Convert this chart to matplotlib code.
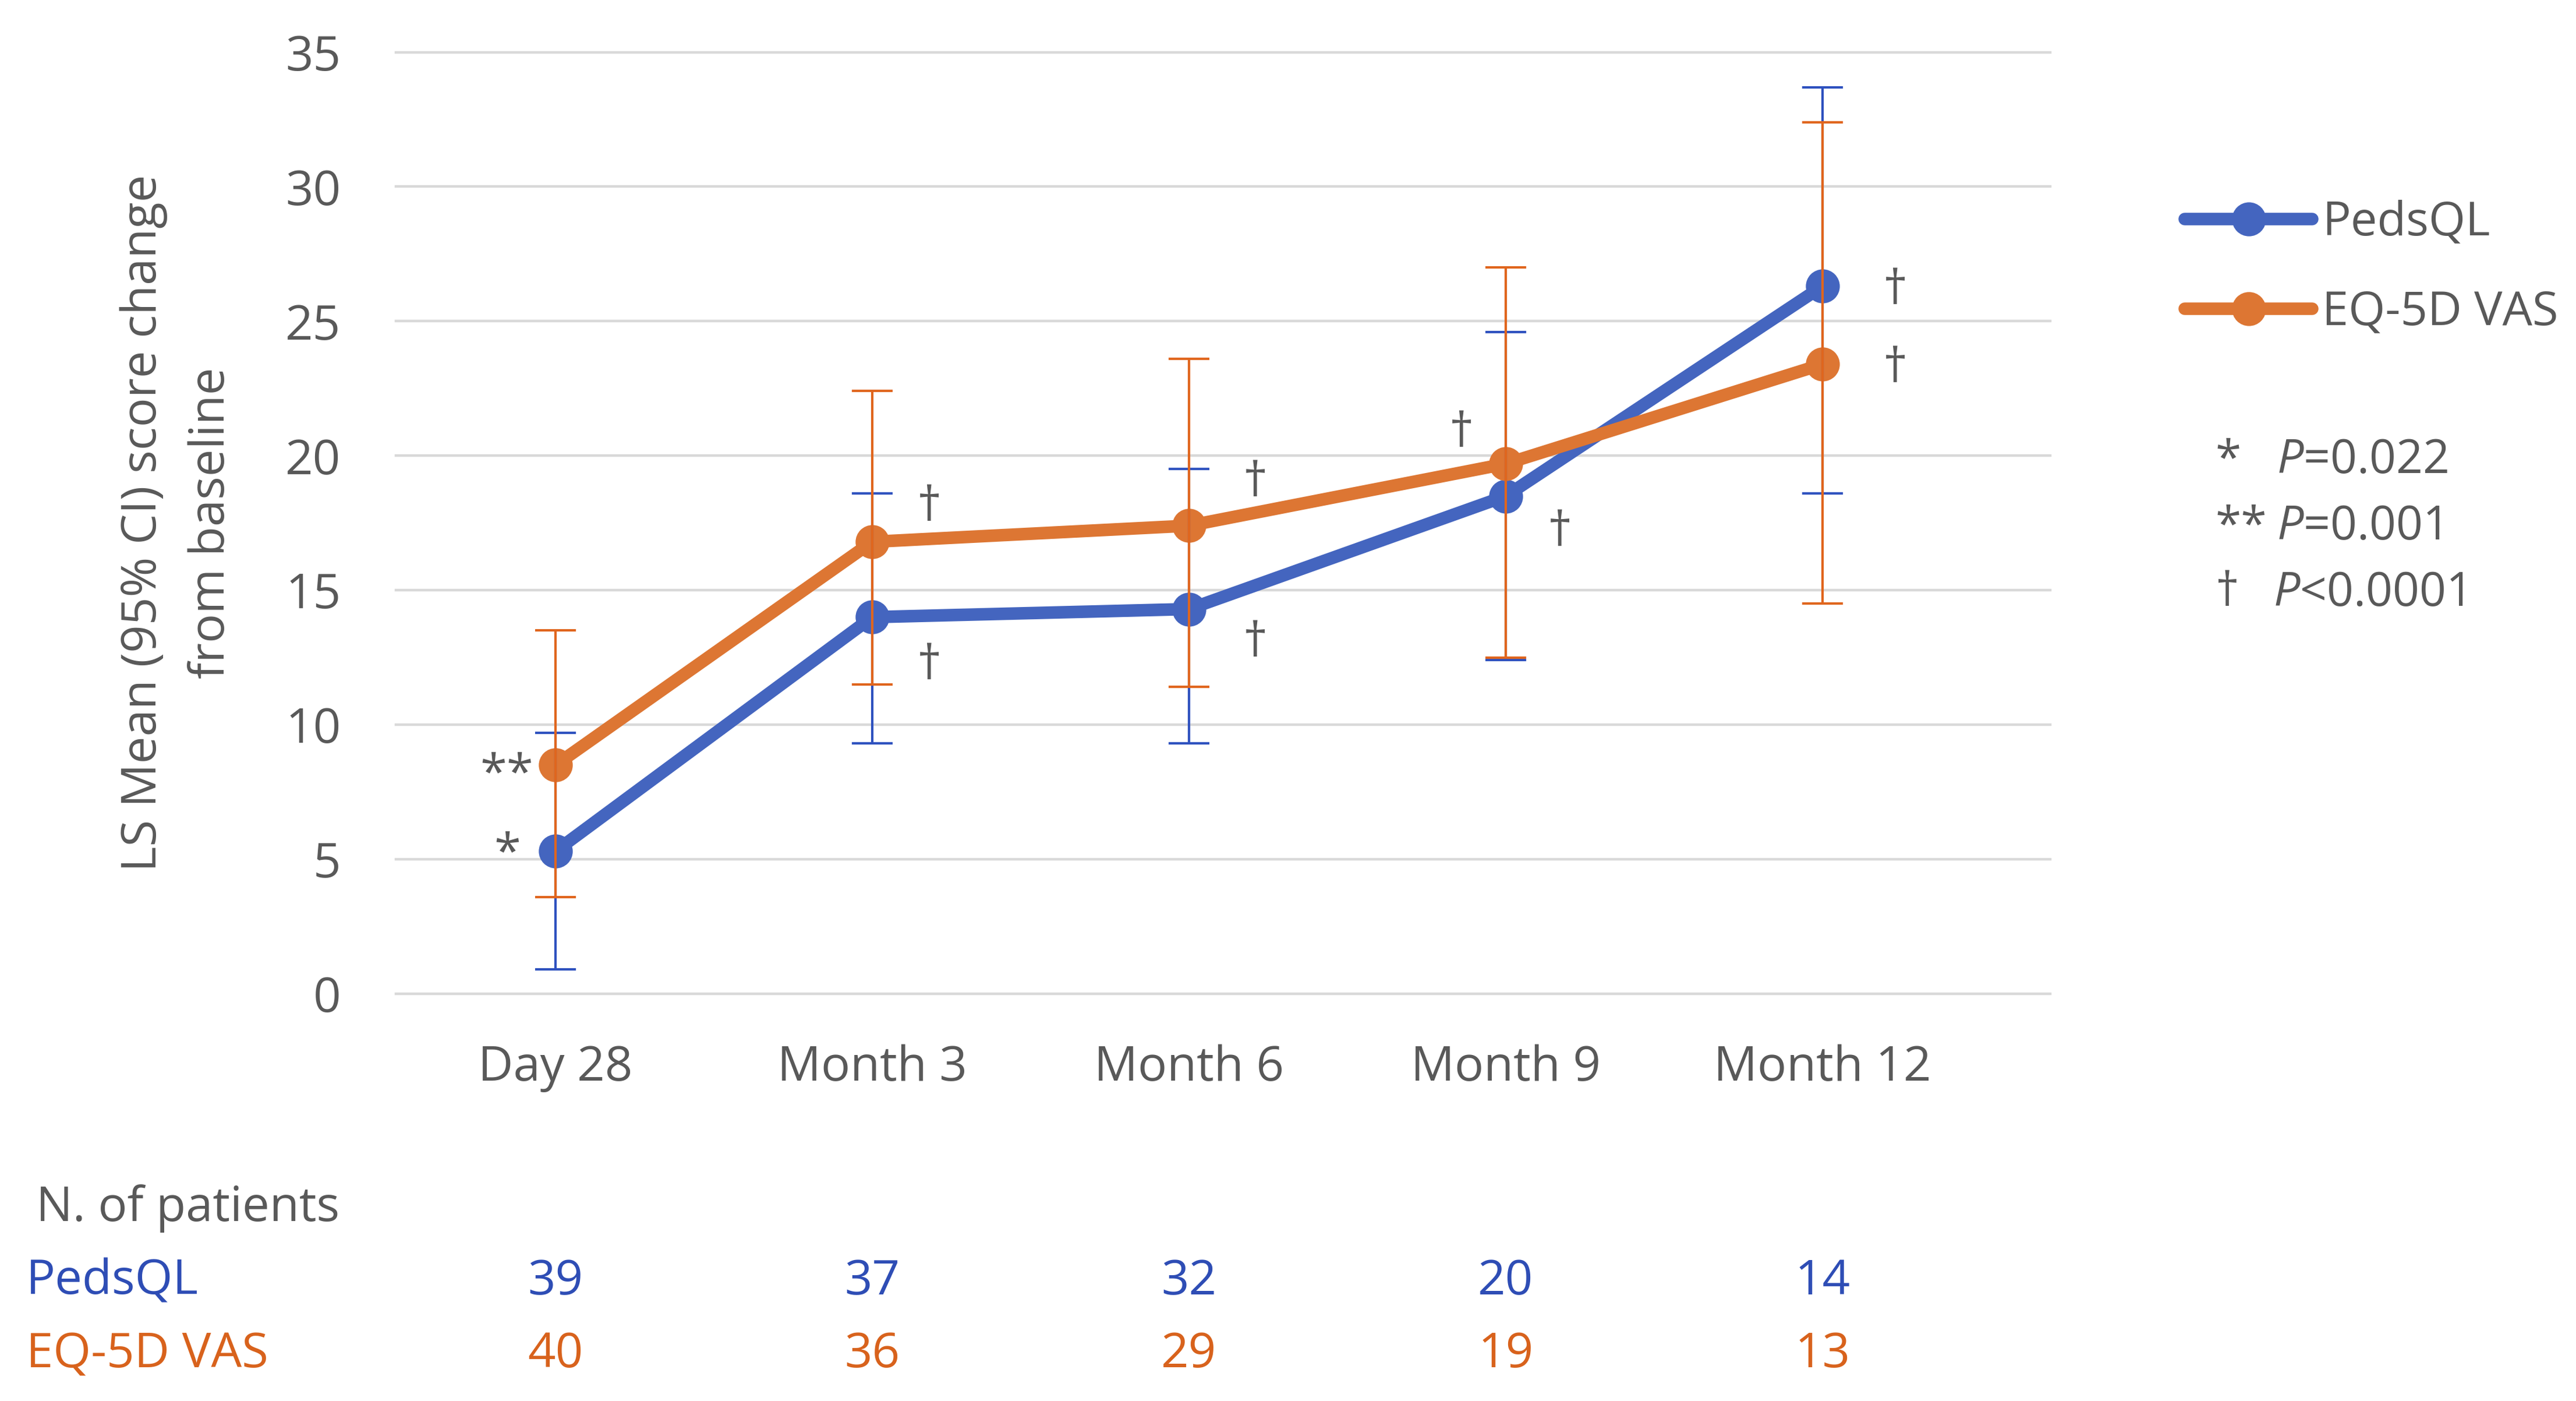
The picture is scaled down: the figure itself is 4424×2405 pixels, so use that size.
import matplotlib
matplotlib.use("Agg")
import matplotlib.pyplot as plt
import matplotlib.transforms as mtransforms
import numpy as np

plt.rcParams['font.family'] = ['Open Sans', 'DejaVu Sans']
plt.rcParams['mathtext.fontset'] = 'custom'
plt.rcParams['mathtext.rm'] = 'Open Sans'
plt.rcParams['mathtext.it'] = 'Open Sans:italic'

# ---------------- data ----------------
categories = ["Day 28", "Month 3", "Month 6", "Month 9", "Month 12"]
peds_mean = [5.3, 14.0, 14.3, 18.5, 26.3]
peds_lo = [0.9, 9.3, 9.3, 12.4, 18.6]
peds_hi = [9.7, 18.6, 19.5, 24.6, 33.7]
eq_mean = [8.5, 16.8, 17.4, 19.7, 23.4]
eq_lo = [3.6, 11.5, 11.4, 12.5, 14.5]
eq_hi = [13.5, 22.4, 23.6, 27.0, 32.4]
n_peds = [39, 37, 32, 20, 14]
n_eq = [40, 36, 29, 19, 13]
series_names = ["PedsQL", "EQ-5D VAS"]
yticks = [0, 5, 10, 15, 20, 25, 30, 35]

annot_peds = ["*", "\u2020", "\u2020", "\u2020", "\u2020"]
annot_eq = ["**", "\u2020", "\u2020", "\u2020", "\u2020"]
pvalue_symbols = ["*", "**", "\u2020"]
pvalue_texts = [r"$\it{P}$=0.022", r"$\it{P}$=0.001", r"$\it{P}$<0.0001"]

# ---------------- style ----------------
W, H = 4424, 2405
BLUE = "#4465BF"
ORANGE = "#DD7633"
BLUE_ERR = "#2F52BF"
ORANGE_ERR = "#E0661E"
BLUE_TXT = "#2E4DB5"
ORANGE_TXT = "#D8621C"
GREY = "#595959"
GRID = "#D9D9D9"
FS = 60

fig = plt.figure(figsize=(W / 100, H / 100), dpi=100)
fig.patch.set_facecolor("white")

def fx(px):
    return px / W

def fy(py):
    return 1 - py / H

ax_left, ax_right, ax_top, ax_bot = 680, 3521, 89.5, 1706
ax = fig.add_axes([fx(ax_left), fy(ax_bot), (ax_right - ax_left) / W, (ax_bot - ax_top) / H])
x0_px, step_px = 954, 544
ax.set_xlim((ax_left - x0_px) / step_px, (ax_right - x0_px) / step_px)
ax.set_ylim(0, 35)
for s in ax.spines.values():
    s.set_visible(False)

for v in yticks:
    ax.axhline(v, color=GRID, lw=3.2, zorder=0, clip_on=False)

x = np.arange(len(categories))
pm, pl, ph = np.array(peds_mean), np.array(peds_lo), np.array(peds_hi)
em, el, eh = np.array(eq_mean), np.array(eq_lo), np.array(eq_hi)

l1, = ax.plot(x, pm, color=BLUE, lw=15.5, marker='o', ms=41, solid_capstyle='round',
              solid_joinstyle='round', zorder=3, label=series_names[0])
l2, = ax.plot(x, em, color=ORANGE, lw=15.5, marker='o', ms=41, solid_capstyle='round',
              solid_joinstyle='round', zorder=4, label=series_names[1])
ax.errorbar(x, pm, yerr=[pm - pl, ph - pm], fmt='none', ecolor=BLUE_ERR, elinewidth=3.0,
            capsize=25, capthick=3.0, zorder=5)
ax.errorbar(x, em, yerr=[em - el, eh - em], fmt='none', ecolor=ORANGE_ERR, elinewidth=3.0,
            capsize=25, capthick=3.0, zorder=6)

ax.set_yticks(yticks)
ax.set_yticklabels([str(v) for v in yticks])
ax.set_xticks(x)
ax.set_xticklabels(categories)
ax.tick_params(axis='y', length=0, pad=68, labelsize=FS, labelcolor=GREY)
ax.tick_params(axis='x', length=0, pad=62, labelsize=FS, labelcolor=GREY)

# significance annotations
afs = 60
ax.text(-0.07, 7.64, annot_eq[0], ha='right', va='baseline', fontsize=afs, color=GREY, zorder=7)
ax.text(-0.11, 4.70, annot_peds[0], ha='right', va='baseline', fontsize=afs, color=GREY, zorder=7)
dag_pos_eq = [(1.18, 18.05), (2.21, 18.95), (2.86, 20.8), (4.23, 23.2)]
dag_pos_peds = [(1.18, 12.15), (2.21, 13.0), (3.17, 17.1), (4.23, 26.1)]
for (xx, yy), t in zip(dag_pos_eq, annot_eq[1:]):
    ax.text(xx, yy, t, ha='center', va='center', fontsize=afs, color=GREY, zorder=7)
for (xx, yy), t in zip(dag_pos_peds, annot_peds[1:]):
    ax.text(xx, yy, t, ha='center', va='center', fontsize=afs, color=GREY, zorder=7)

# y label
fig.text(fx(305), fy(898), "LS Mean (95% CI) score change\nfrom baseline", rotation=90,
         ha='center', va='center', fontsize=FS, color=GREY, linespacing=1.55, multialignment='center')

# legend
leg = fig.legend(handles=[l1, l2], loc='center left', bbox_to_anchor=(fx(3752), fy(460)),
                 frameon=False, fontsize=58.5, handlelength=2.7, handletextpad=0.2,
                 labelspacing=0.9, borderpad=0, borderaxespad=0, labelcolor=GREY)

# p-value key
pv_base = [812, 926, 1040]
pv_x = [3910, 3910, 3904]
for sym, txt, yb, xp in zip(pvalue_symbols, pvalue_texts, pv_base, pv_x):
    fig.text(fx(3805), fy(yb), sym, ha='left', va='baseline', fontsize=58, color=GREY)
    fig.text(fx(xp), fy(yb), txt, ha='left', va='baseline', fontsize=58, color=GREY)

# patients table
trans = mtransforms.blended_transform_factory(ax.transData, fig.transFigure)
fig.text(fx(62), fy(2096), "N. of patients", ha='left', va='baseline', fontsize=FS, color=GREY)
fig.text(fx(45), fy(2222), series_names[0], ha='left', va='baseline', fontsize=FS, color=BLUE_TXT)
fig.text(fx(45), fy(2347), series_names[1], ha='left', va='baseline', fontsize=FS, color=ORANGE_TXT)
for i, (a, b) in enumerate(zip(n_peds, n_eq)):
    ax.text(i, fy(2222), str(a), transform=trans, ha='center', va='baseline', fontsize=FS,
            color=BLUE_TXT, clip_on=False)
    ax.text(i, fy(2347), str(b), transform=trans, ha='center', va='baseline', fontsize=FS,
            color=ORANGE_TXT, clip_on=False)

fig.savefig("out.png", dpi=100, facecolor="white")
